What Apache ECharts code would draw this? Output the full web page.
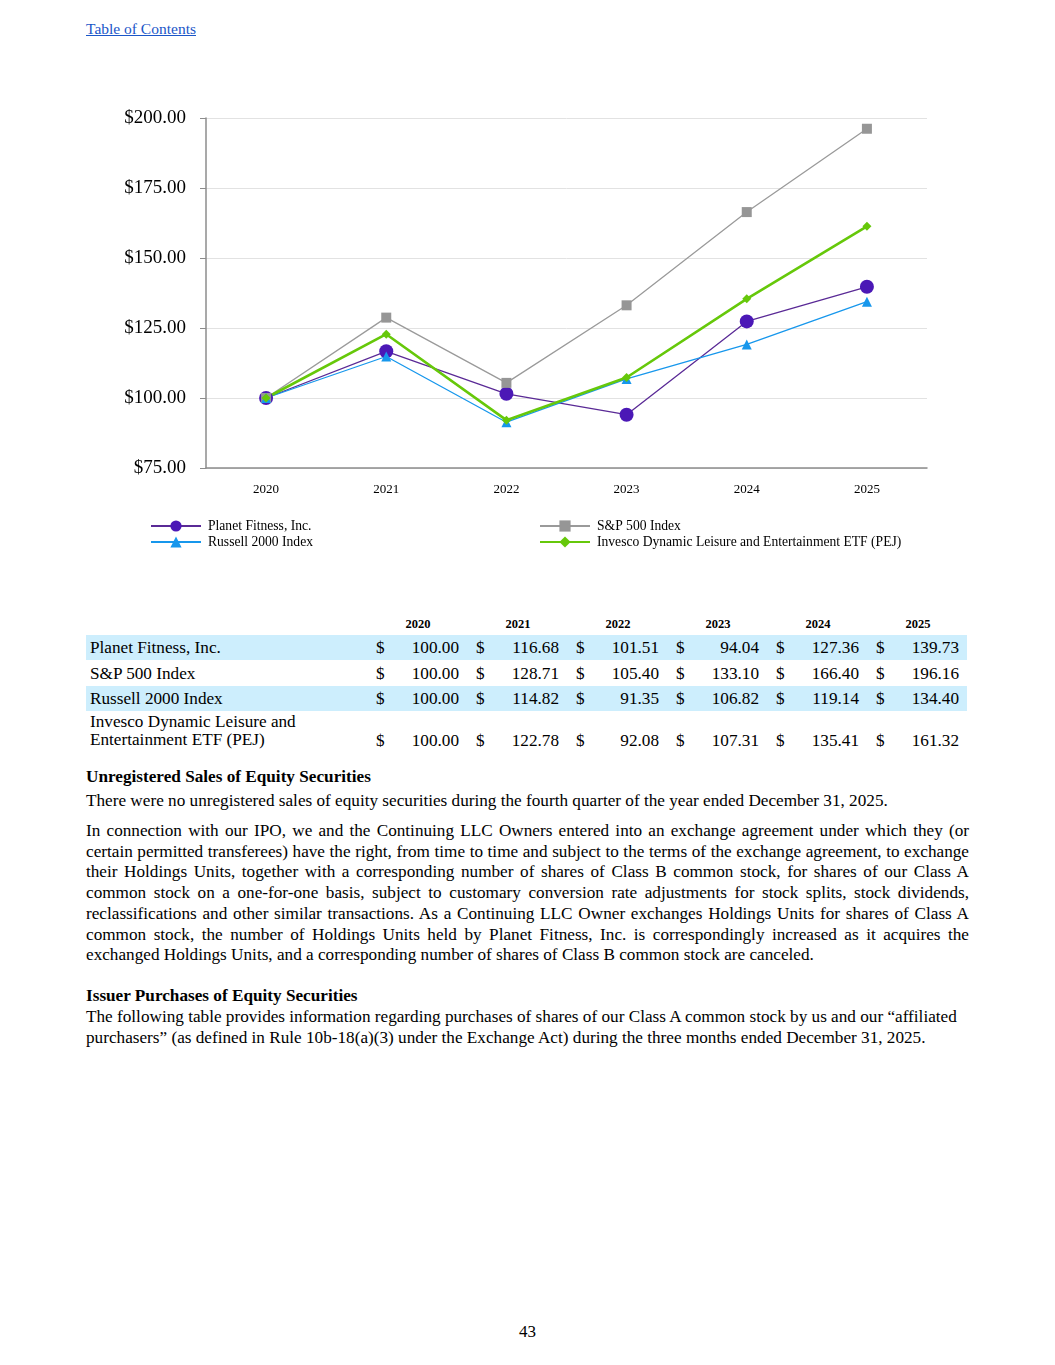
<!DOCTYPE html>
<html><head><meta charset="utf-8">
<script src="https://cdn.jsdelivr.net/npm/echarts@6/dist/echarts.min.js"></script>
<style>
html,body{margin:0;padding:0;background:#fff;}
body{width:1055px;height:1365px;position:relative;font-family:"Liberation Serif","Times New Roman",serif;color:#000;}
#chart{position:absolute;left:0;top:0;width:1055px;height:570px;}
.abs{position:absolute;}
.toc{left:86px;top:20px;font-size:15.5px;color:#1a56c8;text-decoration:underline;}
.row{position:absolute;left:86px;width:881px;font-size:17.2px;}
.bg{background:#cdeefd;}
.lbl{position:absolute;left:4px;}
.cell{position:absolute;width:92px;}
.cell .d{position:absolute;left:4px;}
.cell .v{position:absolute;right:5px;}
.hdr{position:absolute;width:92px;text-align:center;font-weight:bold;font-size:12.5px;border-bottom:2px solid #000;padding-bottom:3px;}
.p{position:absolute;left:86px;width:883px;font-size:17.2px;line-height:20.7px;text-align:justify;}
.b{font-weight:bold;}
</style></head>
<body>
<div class="abs toc">Table of Contents</div>
<div id="chart"></div>
<div id="table"></div>
<div class="p b" style="top:767px;">Unregistered Sales of Equity Securities</div>
<div class="p" style="top:791px;">There were no unregistered sales of equity securities during the fourth quarter of the year ended December 31, 2025.</div>
<div class="p" style="top:821px;">In connection with our IPO, we and the Continuing LLC Owners entered into an exchange agreement under which they (or certain permitted transferees) have the right, from time to time and subject to the terms of the exchange agreement, to exchange their Holdings Units, together with a corresponding number of shares of Class B common stock, for shares of our Class A common stock on a one-for-one basis, subject to customary conversion rate adjustments for stock splits, stock dividends, reclassifications and other similar transactions. As a Continuing LLC Owner exchanges Holdings Units for shares of Class A common stock, the number of Holdings Units held by Planet Fitness, Inc. is correspondingly increased as it acquires the exchanged Holdings Units, and a corresponding number of shares of Class B common stock are canceled.</div>
<div class="p b" style="top:986px;">Issuer Purchases of Equity Securities</div>
<div class="p" style="top:1007px;text-align:left;">The following table provides information regarding purchases of shares of our Class A common stock by us and our “affiliated purchasers” (as defined in Rule 10b-18(a)(3) under the Exchange Act) during the three months ended December 31, 2025.</div>
<div class="abs" style="left:0;width:1055px;top:1322px;text-align:center;font-size:17px;">43</div>
<script>
const years = ['2020','2021','2022','2023','2024','2025'];
const seriesNames = ['Planet Fitness, Inc.','S&P 500 Index','Russell 2000 Index','Invesco Dynamic Leisure and Entertainment ETF (PEJ)'];
const planetFitness = [100.00,116.68,101.51,94.04,127.36,139.73];
const sp500 = [100.00,128.71,105.40,133.10,166.40,196.16];
const russell2000 = [100.00,114.82,91.35,106.82,119.14,134.40];
const pej = [100.00,122.78,92.08,107.31,135.41,161.32];
const yTicks = [75,100,125,150,175,200];

const chart = echarts.init(document.getElementById('chart'), null, {renderer:'canvas'});
const font = '"Liberation Serif","Times New Roman",serif';
chart.setOption({
  animation:false,
  textStyle:{fontFamily:font},
  grid:{left:206,right:128,top:118,bottom:102,containLabel:false},
  xAxis:{type:'category',data:years,boundaryGap:true,
    axisLine:{lineStyle:{color:'#8c8c8c',width:1.5}},axisTick:{show:false},
    axisLabel:{color:'#000',fontSize:13,fontFamily:font,margin:15}},
  yAxis:{type:'value',min:yTicks[0],max:yTicks[yTicks.length-1],interval:25,
    axisLine:{show:true,lineStyle:{color:'#8c8c8c',width:1.5}},
    axisTick:{show:true,length:6,lineStyle:{color:'#8c8c8c'}},
    splitLine:{lineStyle:{color:'#e2e2e2',width:1}},
    axisLabel:{color:'#000',fontSize:19,fontFamily:font,margin:20,formatter:v=>'$'+v.toFixed(2)}},
  legend:[
    {data:[seriesNames[0],seriesNames[2]],orient:'vertical',left:150,top:519,padding:0,itemWidth:50,itemHeight:14,itemGap:2,
     textStyle:{fontSize:13.6,fontFamily:font,color:'#000',padding:[0,0,0,2]}},
    {data:[seriesNames[1],seriesNames[3]],orient:'vertical',left:539,top:519,padding:0,itemWidth:50,itemHeight:14,itemGap:2,
     textStyle:{fontSize:13.6,fontFamily:font,color:'#000',padding:[0,0,0,2]}}
  ],
  series:[
    {name:seriesNames[0],type:'line',data:planetFitness,symbol:'circle',symbolSize:14,
     lineStyle:{color:'#5a2a96',width:1.3},itemStyle:{color:'#4b18b6'}},
    {name:seriesNames[1],type:'line',data:sp500,symbol:'rect',symbolSize:10,
     lineStyle:{color:'#9a9a9a',width:1.3},itemStyle:{color:'#969696'}},
    {name:seriesNames[2],type:'line',data:russell2000,symbol:'triangle',symbolSize:10,
     lineStyle:{color:'#1797ec',width:1.3},itemStyle:{color:'#1797ec'}},
    {name:seriesNames[3],type:'line',data:pej,symbol:'diamond',symbolSize:9,
     lineStyle:{color:'#66c80a',width:2.6},itemStyle:{color:'#66c80a'}}
  ]
});

// Table
const rows = [
  {label:['Planet Fitness, Inc.'],vals:planetFitness,top:635,h:25,bg:true},
  {label:['S&P 500 Index'],vals:sp500,top:661,h:25,bg:false},
  {label:['Russell 2000 Index'],vals:russell2000,top:686,h:25,bg:true},
  {label:['Invesco Dynamic Leisure and','Entertainment ETF (PEJ)'],vals:pej,top:712,h:40,bg:false}
];
const t = document.getElementById('table');
let html='';
years.forEach((y,i)=>{ html+=`<div class="hdr" style="left:${372+100*i}px;top:617px;">${y}</div>`; });
rows.forEach(r=>{
  html+=`<div class="row ${r.bg?'bg':''}" style="top:${r.top}px;height:${r.h}px;">`;
  if(r.label.length===1){
    html+=`<div class="lbl" style="top:3px;">${r.label[0]}</div>`;
  } else {
    html+=`<div class="lbl" style="top:1px;line-height:18px;">${r.label[0]}<br>${r.label[1]}</div>`;
  }
  const ty = r.label.length===1?3:19;
  r.vals.forEach((v,i)=>{
    html+=`<div class="cell" style="left:${286+100*i}px;top:${ty}px;"><span class="d">$</span><span class="v">${v.toFixed(2)}</span></div>`;
  });
  html+='</div>';
});
t.innerHTML=html;
</script>
</body></html>
